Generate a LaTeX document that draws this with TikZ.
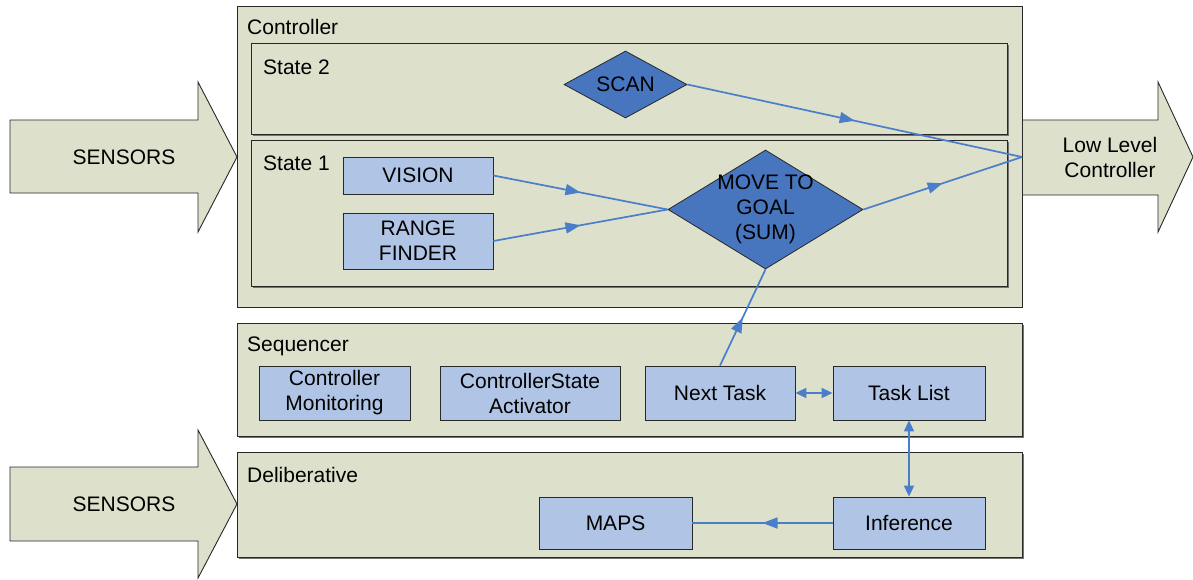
\documentclass[tikz,border=0pt]{standalone}
\usepackage{fontspec}
\setmainfont{Liberation Sans}
\usetikzlibrary{arrows.meta,decorations.markings,shapes.geometric,shadows}
\definecolor{panel}{RGB}{221,225,204}
\definecolor{boxblue}{RGB}{176,197,229}
\definecolor{diablue}{RGB}{71,117,190}
\definecolor{linkblue}{RGB}{74,126,200}
\definecolor{edge}{RGB}{40,40,40}
\begin{document}
\begin{tikzpicture}[x=1pt,y=-1pt,
  font=\fontsize{21}{25}\selectfont,
  panelbox/.style={draw=edge, fill=panel, line width=0.9pt, anchor=north west, inner sep=0pt},
  shadowed/.style={drop shadow={shadow xshift=1.5pt, shadow yshift=-1.5pt, fill=black!55, opacity=1}},
  bluebox/.style={draw=edge, fill=boxblue, line width=0.8pt, align=center, inner sep=0pt},
  dia/.style={diamond, draw=edge, fill=diablue, line width=0.8pt, inner sep=0pt},
  bigarrow/.style={draw=edge, fill=panel, line width=0.9pt},
  paneltitle/.style={anchor=west, inner sep=0pt},
  link/.style={draw=linkblue, color=linkblue, line width=1.7pt, postaction={decorate},
    decoration={markings, mark=at position 0.5 with {\arrow{Triangle[length=15pt,width=11pt]}}}},
  dlink/.style={draw=linkblue, color=linkblue, line width=1.7pt,
    {Triangle[length=11pt,width=10pt]}-{Triangle[length=11pt,width=10pt]}}
]
\useasboundingbox (0,0) rectangle (1193,579);

% big input / output arrows
\draw[bigarrow] (10,120) -- (198,120) -- (198,82) -- (237,157) -- (198,232) -- (198,193) -- (10,193) -- cycle;
\node (sens1) at (124,157) {SENSORS};
\draw[bigarrow] (10,467) -- (198,467) -- (198,430) -- (237,504) -- (198,578) -- (198,541) -- (10,541) -- cycle;
\node (sens2) at (124,504) {SENSORS};
\draw[bigarrow] (1022,120) -- (1158,120) -- (1158,82) -- (1193,157) -- (1158,232) -- (1158,195) -- (1022,195) -- cycle;
\node[align=center] (llc) at (1110,157) {Low Level\\Controller};
\coordinate (llcin) at (1022,157);

% containers
\node[panelbox, minimum width=785pt, minimum height=301pt] (ctrl) at (237,6) {};
\node[paneltitle] (ctrlt) at (247,27) {Controller};
\node[panelbox, shadowed, minimum width=756pt, minimum height=91pt] (st2) at (251,43) {};
\node[paneltitle] (st2t) at (263,67) {State 2};
\node[panelbox, shadowed, minimum width=756pt, minimum height=146pt] (st1) at (251,140) {};
\node[paneltitle] (st1t) at (263,163) {State 1};
\node[panelbox, shadowed, minimum width=785pt, minimum height=113pt] (seq) at (237,323) {};
\node[paneltitle] (seqt) at (247,346) {Sequencer};
\node[panelbox, shadowed, minimum width=785pt, minimum height=105pt] (del) at (237,452) {};
\node[paneltitle] (delt) at (247,475) {Deliberative};

% diamonds
\node[dia, minimum width=123pt, minimum height=67pt] (scan) at (625.5,84.5) {};
\node (scant) at (625.5,84.5) {SCAN};
\node[dia, minimum width=195pt, minimum height=119pt] (move) at (765.5,209.5) {};
\node[align=center] (movet) at (765.5,209) {MOVE TO\\GOAL\\(SUM)};

% boxes
\node[bluebox, minimum width=150pt, minimum height=37pt] (vision) at (418,175.5) {VISION};
\node[bluebox, minimum width=150pt, minimum height=56pt] (range) at (418,241) {RANGE\\FINDER};
\node[bluebox, minimum width=151pt, minimum height=54pt] (cmon) at (334.5,393) {Controller\\Monitoring};
\node[bluebox, minimum width=180pt, minimum height=54pt] (csact) at (530,393) {ControllerState\\Activator};
\node[bluebox, minimum width=150pt, minimum height=54pt] (next) at (720,393) {Next Task};
\node[bluebox, minimum width=152pt, minimum height=54pt] (tlist) at (909,393) {Task List};
\node[bluebox, minimum width=153pt, minimum height=52pt] (maps) at (615.5,523) {MAPS};
\node[bluebox, minimum width=152pt, minimum height=52pt] (infer) at (909,523) {Inference};

% connectors
\draw[link] (scan.east) -- (llcin);
\draw[link] (vision.east) -- (move.west);
\draw[link] (range.east) -- (move.west);
\draw[link] (move.east) -- (llcin);
\draw[link] (next.north) -- (move.south);
\draw[dlink] (next.east) -- (tlist.west);
\draw[dlink] (tlist.south) -- (infer.north);
\draw[link] (infer.west) -- (maps.east);
\end{tikzpicture}
\end{document}
